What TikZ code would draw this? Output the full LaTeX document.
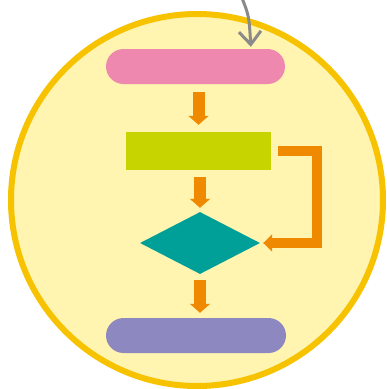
\documentclass[tikz,border=0pt]{standalone}
\usetikzlibrary{shapes.geometric,arrows.meta}
\definecolor{ringc}{HTML}{F7C300}
\definecolor{fillc}{HTML}{FFF4B0}
\definecolor{pinkc}{HTML}{EE88AE}
\definecolor{greenc}{HTML}{C8D400}
\definecolor{tealc}{HTML}{00A098}
\definecolor{purplec}{HTML}{8D88BF}
\definecolor{orangec}{HTML}{EF8A00}
\definecolor{greyc}{HTML}{8A8A8A}
\tikzset{
  pill/.style={rectangle, rounded corners=17.5pt, minimum width=179pt, minimum height=35pt, inner sep=0pt, draw=none},
  procbox/.style={rectangle, minimum width=145pt, minimum height=38pt, inner sep=0pt, fill=greenc},
  decbox/.style={diamond, minimum width=120pt, minimum height=62pt, inner sep=0pt, fill=tealc},
  flow/.style={draw=orangec, line width=12pt, -{Triangle[width=20pt,length=9pt]}},
  loopflow/.style={draw=orangec, line width=10pt, line join=miter, -{Triangle[width=17pt,length=9pt]}},
  greyarrow/.style={draw=greyc, line width=3pt, line cap=round, -{Straight Barb[width=22pt,length=13pt]}}
}
\begin{document}
\begin{tikzpicture}[x=1pt,y=-1pt]
\useasboundingbox (0,0) rectangle (387,389);
\fill[white] (0,0) rectangle (387,389);
\node[circle, draw=ringc, line width=6pt, fill=fillc, minimum size=372pt, inner sep=0pt] (ring) at (197,200) {};
\node[pill, fill=pinkc] (start) at (195.5,66.5) {};
\node[procbox] (proc) at (198.5,151) {};
\node[decbox] (dec) at (200,243) {};
\node[pill, fill=purplec, minimum width=180pt] (stop) at (196,335.5) {};
\draw[flow, shorten <=8pt, shorten >=7pt] (start.south -| proc.north) -- (proc.north);
\draw[flow, shorten <=7pt, shorten >=4pt] (proc.south -| dec.north) -- (dec.north);
\draw[flow, shorten <=6pt, shorten >=5pt] (dec.south) -- (dec.south |- stop.north);
\draw[loopflow, shorten <=7pt, shorten >=3pt] (proc.east) -- ++(46,0) |- (dec.east);
\coordinate (src) at (242,-2);
\draw[greyarrow, shorten >=2pt] (src) .. controls (249,16) .. (start.north -| 251,0);
\end{tikzpicture}
\end{document}
